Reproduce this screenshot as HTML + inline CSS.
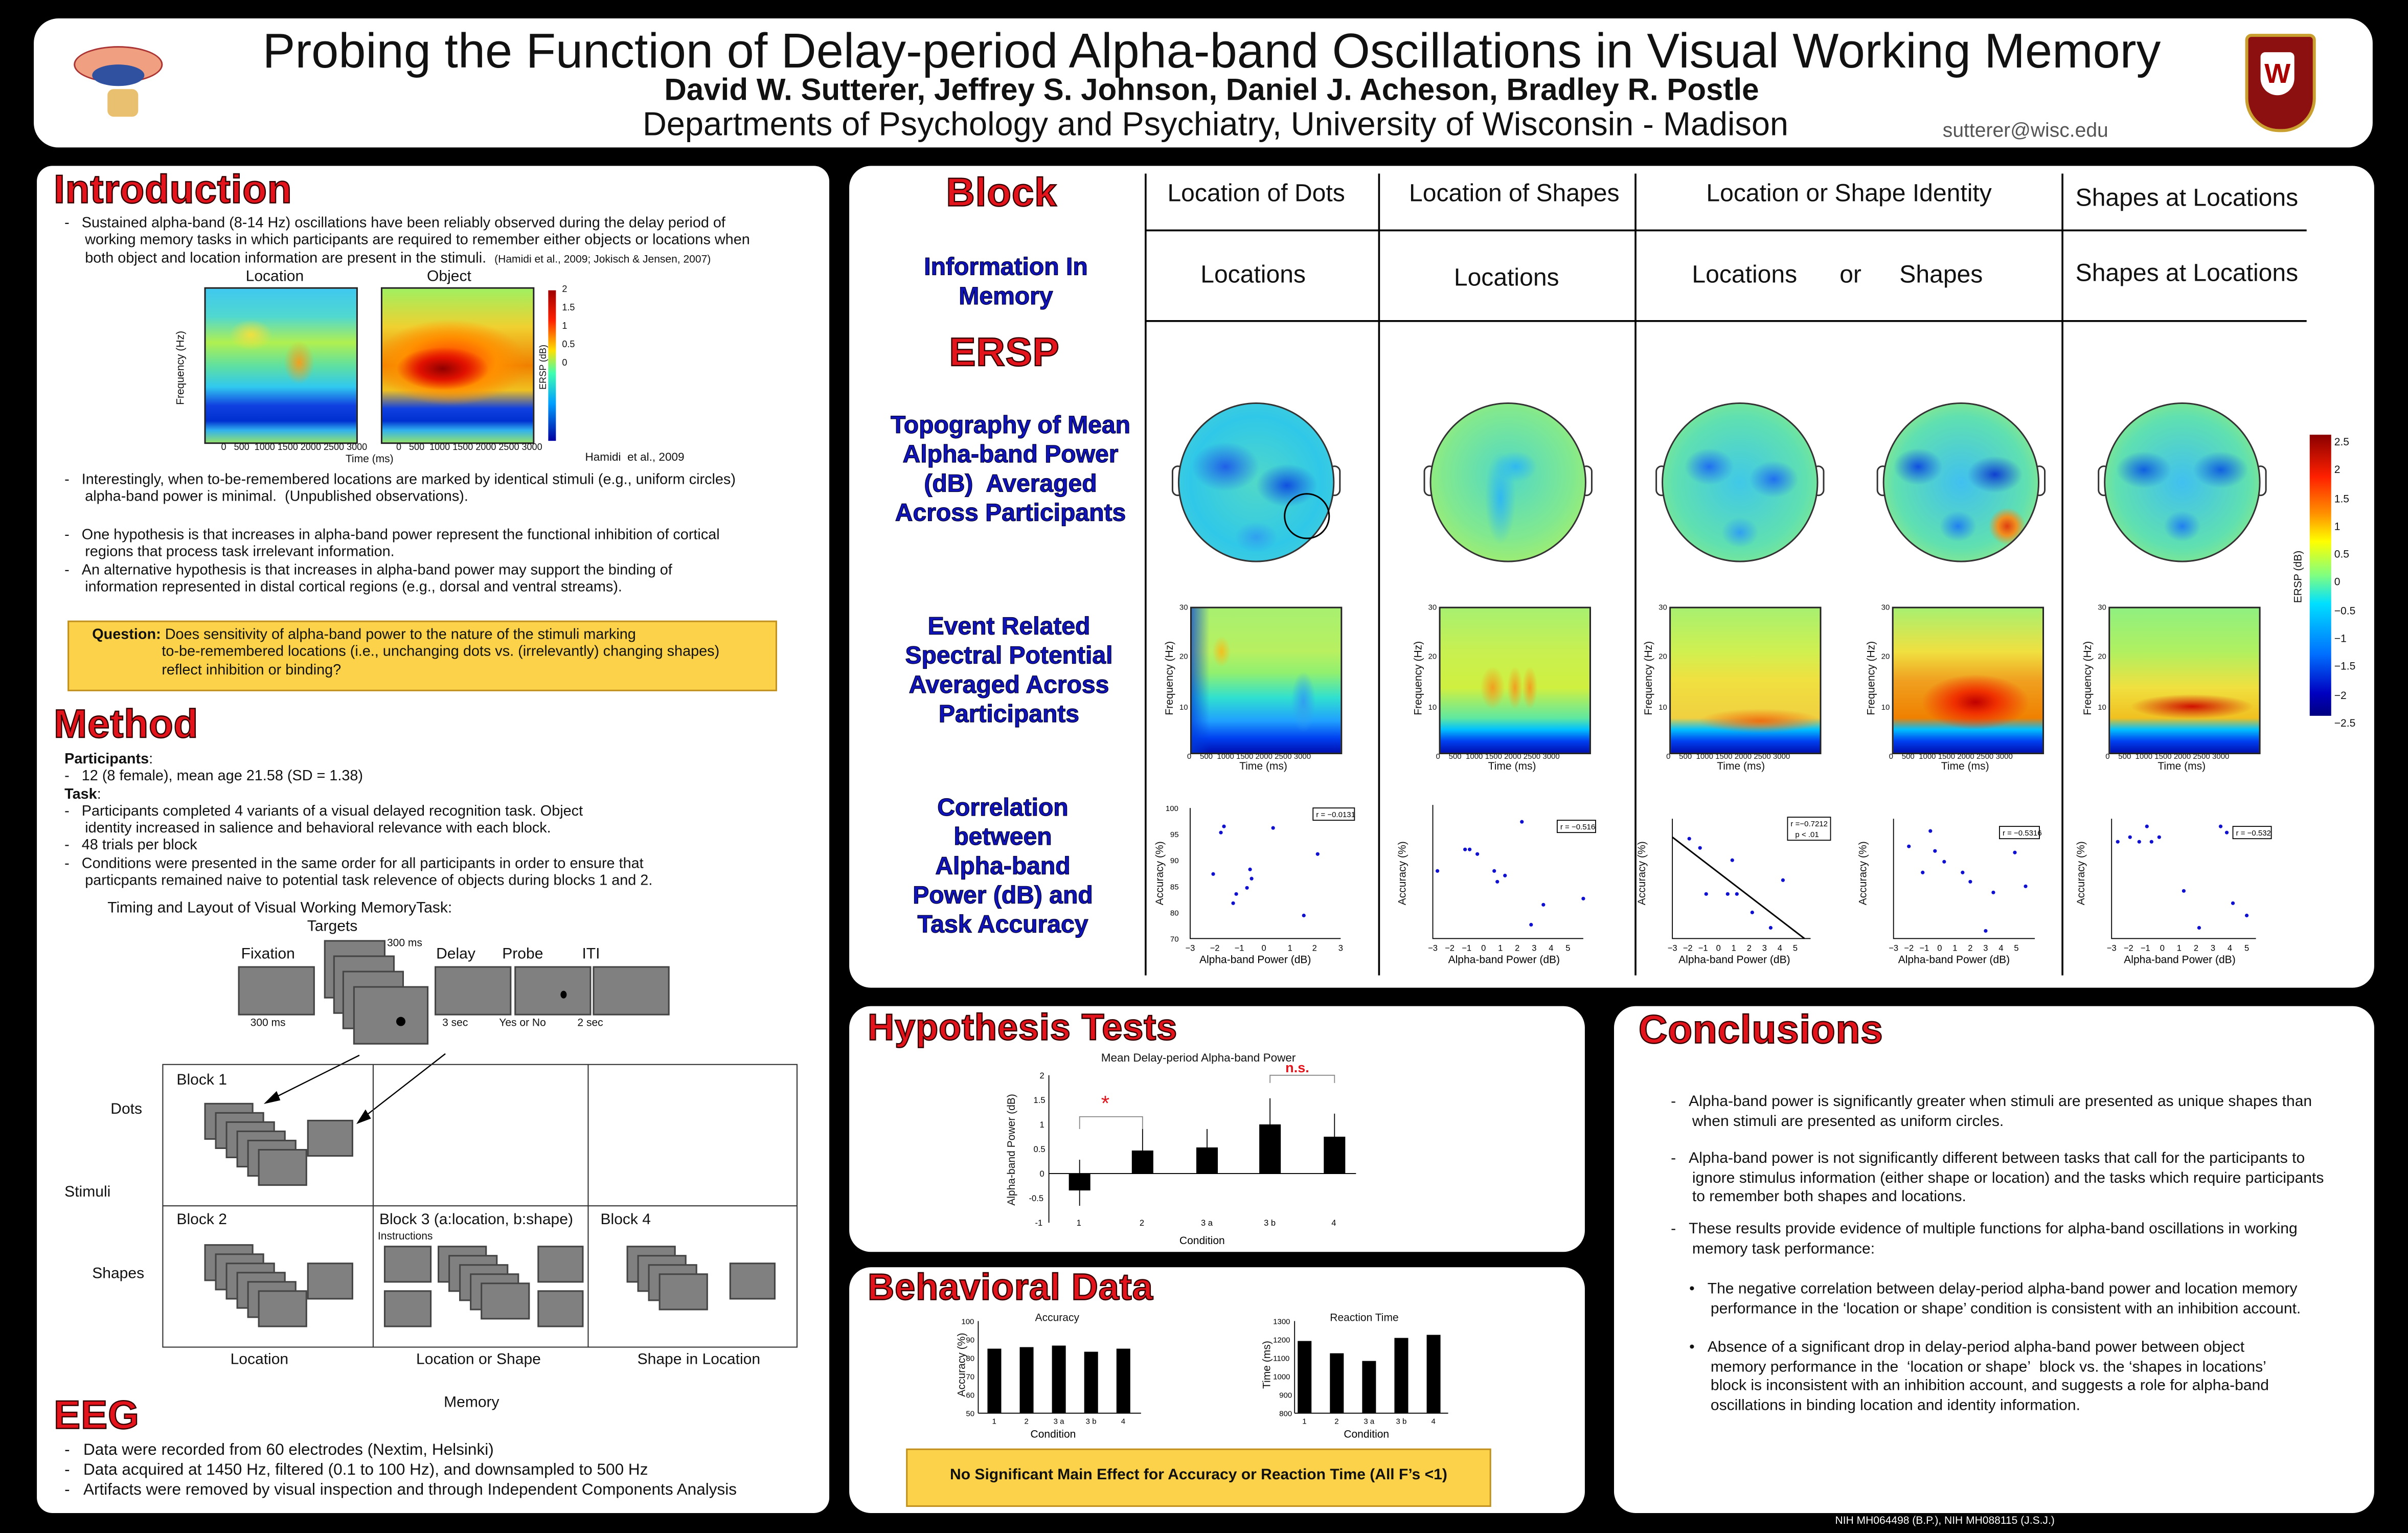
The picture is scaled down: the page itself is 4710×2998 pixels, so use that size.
<!DOCTYPE html>
<html><head><meta charset="utf-8">
<style>
html,body{margin:0;padding:0;background:#000;}
body{width:4710px;height:2998px;overflow:hidden;}
#p{position:absolute;left:0;top:0;width:1568px;height:998px;transform:scale(3.0038,3.004);transform-origin:0 0;font-family:"Liberation Sans",sans-serif;color:#111;}
.a{position:absolute;}
.pan{position:absolute;background:#fff;border-radius:14px;}
.h{position:absolute;font-weight:bold;color:#e3141c;font-size:26px;-webkit-text-stroke:0.8px #300;white-space:nowrap;letter-spacing:0.3px}
.bh{position:absolute;font-weight:bold;color:#1014b8;font-size:16px;text-align:center;-webkit-text-stroke:0.4px #000030;line-height:19px;white-space:nowrap}
.t{position:absolute;font-size:9.6px;line-height:11.3px;white-space:nowrap;font-family:"Liberation Sans Narrow","Liberation Sans",sans-serif;}
.c{position:absolute;font-size:16px;white-space:nowrap;transform:translateX(-50%);}
.topo{position:absolute;width:100px;height:102px;border-radius:50%;border:1px solid #333;}
.ear{position:absolute;width:6px;height:18px;border:1px solid #333;background:#fff;border-radius:4px}
.ersp{position:absolute;width:97px;height:94px;border:1px solid #222;}
.g{position:absolute;background:#808080;border:0.6px solid #444;}
.sm{font-size:6px;position:absolute;white-space:nowrap}
</style></head><body><div id="p">

<!-- header -->
<div class="pan" style="left:22px;top:12px;width:1523px;height:84px;border-radius:16px"></div>
<div class="a" style="left:40px;top:20px;width:80px;height:62px">
 <div class="a" style="left:8px;top:10px;width:56px;height:22px;border-radius:50%;background:#f0a080;border:1px solid #a33"></div>
 <div class="a" style="left:20px;top:22px;width:34px;height:14px;border-radius:50%;background:#3050a0"></div>
 <div class="a" style="left:30px;top:38px;width:20px;height:18px;border-radius:4px;background:#e8c070"></div>
</div>
<div class="a" style="left:0;width:1578px;top:15px;text-align:center;font-size:31.8px;">Probing the Function of Delay-period Alpha-band Oscillations in Visual Working Memory</div>
<div class="a" style="left:0;width:1578px;top:48px;text-align:center;font-size:20px;font-weight:bold">David W. Sutterer, Jeffrey S. Johnson, Daniel J. Acheson, Bradley R. Postle</div>
<div class="a" style="left:0;width:1583px;top:68px;text-align:center;font-size:21.6px;">Departments of Psychology and Psychiatry, University of Wisconsin - Madison</div>
<div class="a" style="left:1265px;top:77px;font-size:13px;color:#555">sutterer@wisc.edu</div>
<div class="a" style="left:1462px;top:22px;width:42px;height:60px;background:#8c1010;border-radius:4px 4px 22px 22px;border:2px solid #c9a030"></div>
<div class="a" style="left:1472px;top:34px;width:22px;height:28px;background:#fff;border-radius:3px 3px 11px 11px;color:#a00;font-weight:bold;font-size:18px;text-align:center;line-height:28px">W</div>

<!-- left panel -->
<div class="pan" style="left:24px;top:108px;width:516px;height:877px;border-radius:10px"></div>
<div class="h" style="left:35px;top:108px">Introduction</div>
<div class="t" style="left:42px;top:140px">-&nbsp;&nbsp;&nbsp;Sustained alpha-band (8-14 Hz) oscillations have been reliably observed during the delay period of<br>&nbsp;&nbsp;&nbsp;&nbsp;&nbsp;working memory tasks in which participants are required to remember either objects or locations when<br>&nbsp;&nbsp;&nbsp;&nbsp;&nbsp;both object and location information are present in the stimuli.&nbsp; <span style="font-size:7px">(Hamidi et al., 2009; Jokisch &amp; Jensen, 2007)</span></div>
<div class="t" style="left:160px;top:175px;font-size:10px">Location</div>
<div class="t" style="left:278px;top:175px;font-size:10px">Object</div>
<div class="a" style="left:133px;top:187px;width:98px;height:100px;border:1px solid #222;background:
radial-gradient(ellipse 10px 14px at 62% 48%,#f0a020,rgba(240,200,40,0) 100%),
radial-gradient(ellipse 14px 10px at 30% 30%,#f0e040,rgba(240,200,40,0) 100%),
linear-gradient(to top,#90e070 0%,#30b0f0 8%,#0030d0 14%,#1040e0 24%,#30c8f0 36%,#60e0a0 50%,#b0f050 65%,#50d8d0 82%,#40c8f0 100%)"></div>
<div class="a" style="left:248px;top:187px;width:98px;height:100px;border:1px solid #222;background:
radial-gradient(ellipse 30px 14px at 40% 52%,#900000,#e01000 50%,rgba(255,60,0,0) 100%),
radial-gradient(ellipse 50px 28px at 45% 48%,#ff3000,#ff9000 60%,rgba(255,200,0,0) 100%),
linear-gradient(to top,#90e070 0%,#30b0f0 8%,#0030d0 14%,#1040e0 22%,#f0c020 34%,#f08000 50%,#f0d030 75%,#a0f060 100%)"></div>
<div class="a" style="left:357px;top:189px;width:5px;height:98px;background:linear-gradient(#a00000,#ff2000 20%,#ffe000 40%,#40ffb0 55%,#00a0ff 75%,#0000a0)"></div>
<div class="sm" style="left:366px;top:186px">2<br><br>1.5<br><br>1<br><br>0.5<br><br>0</div>
<div class="sm" style="left:94px;top:236px;transform:rotate(-90deg);font-size:7px">Frequency (Hz)</div>
<div class="sm" style="left:340px;top:236px;transform:rotate(-90deg)">ERSP (dB)</div>
<div class="sm" style="left:144px;top:289px">0&nbsp;&nbsp;&nbsp;500&nbsp;&nbsp;1000&nbsp;1500&nbsp;2000&nbsp;2500&nbsp;3000</div>
<div class="sm" style="left:258px;top:289px">0&nbsp;&nbsp;&nbsp;500&nbsp;&nbsp;1000&nbsp;1500&nbsp;2000&nbsp;2500&nbsp;3000</div>
<div class="sm" style="left:225px;top:296px;font-size:7px">Time (ms)</div>
<div class="sm" style="left:381px;top:293px;font-size:7.5px">Hamidi&nbsp; et al., 2009</div>
<div class="t" style="left:42px;top:307px">-&nbsp;&nbsp;&nbsp;Interestingly, when to-be-remembered locations are marked by identical stimuli (e.g., uniform circles)<br>&nbsp;&nbsp;&nbsp;&nbsp;&nbsp;alpha-band power is minimal.&nbsp; (Unpublished observations).</div>
<div class="t" style="left:42px;top:343px">-&nbsp;&nbsp;&nbsp;One hypothesis is that increases in alpha-band power represent the functional inhibition of cortical<br>&nbsp;&nbsp;&nbsp;&nbsp;&nbsp;regions that process task irrelevant information.<br>-&nbsp;&nbsp;&nbsp;An alternative hypothesis is that increases in alpha-band power may support the binding of<br>&nbsp;&nbsp;&nbsp;&nbsp;&nbsp;information represented in distal cortical regions (e.g., dorsal and ventral streams).</div>
<div class="a" style="left:44px;top:404px;width:460px;height:44px;background:#fcd24a;border:1px solid #c09020"></div>
<div class="t" style="left:60px;top:408px"><b>Question:</b> Does sensitivity of alpha-band power to the nature of the stimuli marking<br>&nbsp;&nbsp;&nbsp;&nbsp;&nbsp;&nbsp;&nbsp;&nbsp;&nbsp;&nbsp;&nbsp;&nbsp;&nbsp;&nbsp;&nbsp;&nbsp;&nbsp;to-be-remembered locations (i.e., unchanging dots vs. (irrelevantly) changing shapes)<br>&nbsp;&nbsp;&nbsp;&nbsp;&nbsp;&nbsp;&nbsp;&nbsp;&nbsp;&nbsp;&nbsp;&nbsp;&nbsp;&nbsp;&nbsp;&nbsp;&nbsp;reflect inhibition or binding?</div>

<div class="h" style="left:35px;top:456px">Method</div>
<div class="t" style="left:42px;top:489px"><b>Participants</b>:<br>-&nbsp;&nbsp;&nbsp;12 (8 female), mean age 21.58 (SD = 1.38)<br><b>Task</b>:<br>-&nbsp;&nbsp;&nbsp;Participants completed 4 variants of a visual delayed recognition task. Object<br>&nbsp;&nbsp;&nbsp;&nbsp;&nbsp;identity increased in salience and behavioral relevance with each block.<br>-&nbsp;&nbsp;&nbsp;48 trials per block<br>-&nbsp;&nbsp;&nbsp;Conditions were presented in the same order for all participants in order to ensure that<br>&nbsp;&nbsp;&nbsp;&nbsp;&nbsp;particpants remained naive to potential task relevence of objects during blocks 1 and 2.</div>
<div class="t" style="left:70px;top:586px;font-size:10px">Timing and Layout of Visual Working MemoryTask:</div>
<div class="t" style="left:200px;top:598px;font-size:10px">Targets</div>
<div class="t" style="left:252px;top:609px;font-size:7px;background:#fff">300 ms</div>
<div class="t" style="left:157px;top:616px;font-size:10px">Fixation</div>
<div class="t" style="left:284px;top:616px;font-size:10px">Delay</div>
<div class="t" style="left:327px;top:616px;font-size:10px">Probe</div>
<div class="t" style="left:379px;top:616px;font-size:10px">ITI</div>
<div class="g" style="left:155px;top:629px;width:48px;height:30px"></div>
<div class="g" style="left:211px;top:612px;width:38px;height:36px"></div>
<div class="g" style="left:217px;top:622px;width:38px;height:36px"></div>
<div class="g" style="left:223px;top:632px;width:38px;height:36px"></div>
<div class="g" style="left:230px;top:642px;width:47px;height:36px"></div>
<div class="g" style="left:283px;top:629px;width:48px;height:30px"></div>
<div class="g" style="left:335px;top:629px;width:48px;height:30px"></div>
<div class="g" style="left:386px;top:629px;width:48px;height:30px"></div>
<div class="a" style="left:258px;top:662px;width:6px;height:6px;background:#000;border-radius:50%"></div>
<div class="a" style="left:365px;top:645px;width:4px;height:5px;background:#000;border-radius:50%"></div>
<div class="t" style="left:163px;top:661px;font-size:7px">300 ms</div>
<div class="t" style="left:288px;top:661px;font-size:7px">3 sec</div>
<div class="t" style="left:325px;top:661px;font-size:7px">Yes or No</div>
<div class="t" style="left:376px;top:661px;font-size:7px">2 sec</div>
<svg class="a" style="left:0;top:0" width="540" height="998"><g stroke="#000" stroke-width="0.8" fill="#000">
<line x1="234" y1="687" x2="176" y2="716"/><polygon points="173,718 180,711 182,716"/>
<line x1="290" y1="686" x2="236" y2="728"/><polygon points="233,731 238,723 241,728"/></g>
<g fill="none" stroke="#333" stroke-width="0.7"><rect x="106" y="693" width="413" height="184"/><line x1="243" y1="693" x2="243" y2="877"/><line x1="383" y1="693" x2="383" y2="877"/><line x1="106" y1="785" x2="519" y2="785"/></g></svg>
<div class="t" style="left:115px;top:698px;font-size:10px">Block 1</div>
<div class="t" style="left:115px;top:789px;font-size:10px">Block 2</div>
<div class="t" style="left:247px;top:789px;font-size:10px">Block 3 (a:location, b:shape)</div>
<div class="t" style="left:246px;top:800px;font-size:7px">Instructions</div>
<div class="t" style="left:391px;top:789px;font-size:10px">Block 4</div>
<div class="t" style="left:72px;top:717px;font-size:10px">Dots</div>
<div class="t" style="left:42px;top:771px;font-size:10px">Stimuli</div>
<div class="t" style="left:60px;top:824px;font-size:10px">Shapes</div>
<div class="g" style="left:133px;top:718px;width:30px;height:22px"></div><div class="g" style="left:140px;top:724px;width:30px;height:22px"></div><div class="g" style="left:147px;top:730px;width:30px;height:22px"></div><div class="g" style="left:154px;top:736px;width:30px;height:22px"></div><div class="g" style="left:161px;top:742px;width:30px;height:22px"></div><div class="g" style="left:168px;top:748px;width:30px;height:22px"></div><div class="g" style="left:200px;top:729px;width:28px;height:22px"></div>
<div class="g" style="left:133px;top:810px;width:30px;height:22px"></div><div class="g" style="left:140px;top:816px;width:30px;height:22px"></div><div class="g" style="left:147px;top:822px;width:30px;height:22px"></div><div class="g" style="left:154px;top:828px;width:30px;height:22px"></div><div class="g" style="left:161px;top:834px;width:30px;height:22px"></div><div class="g" style="left:168px;top:840px;width:30px;height:22px"></div><div class="g" style="left:200px;top:822px;width:28px;height:22px"></div>
<div class="g" style="left:250px;top:811px;width:29px;height:22px"></div><div class="g" style="left:250px;top:840px;width:29px;height:22px"></div>
<div class="g" style="left:285px;top:811px;width:30px;height:22px"></div><div class="g" style="left:292px;top:817px;width:30px;height:22px"></div><div class="g" style="left:299px;top:823px;width:30px;height:22px"></div><div class="g" style="left:306px;top:829px;width:30px;height:22px"></div><div class="g" style="left:313px;top:835px;width:30px;height:22px"></div><div class="g" style="left:350px;top:811px;width:28px;height:22px"></div><div class="g" style="left:350px;top:840px;width:28px;height:22px"></div>
<div class="g" style="left:408px;top:811px;width:30px;height:22px"></div><div class="g" style="left:415px;top:817px;width:30px;height:22px"></div><div class="g" style="left:422px;top:823px;width:30px;height:22px"></div><div class="g" style="left:429px;top:829px;width:30px;height:22px"></div><div class="g" style="left:475px;top:822px;width:28px;height:22px"></div>
<div class="t" style="left:150px;top:880px;font-size:10px">Location</div>
<div class="t" style="left:271px;top:880px;font-size:10px">Location or Shape</div>
<div class="t" style="left:415px;top:880px;font-size:10px">Shape in Location</div>
<div class="t" style="left:289px;top:908px;font-size:10px">Memory</div>
<div class="h" style="left:35px;top:906px">EEG</div>
<div class="t" style="left:42px;top:938px;font-size:10.5px;line-height:13px">-&nbsp;&nbsp;&nbsp;Data were recorded from 60 electrodes (Nextim, Helsinki)<br>-&nbsp;&nbsp;&nbsp;Data acquired at 1450 Hz, filtered (0.1 to 100 Hz), and downsampled to 500 Hz<br>-&nbsp;&nbsp;&nbsp;Artifacts were removed by visual inspection and through Independent Components Analysis</div>

<!-- top right panel -->
<div class="pan" style="left:553px;top:108px;width:993px;height:535px"></div>
<svg class="a" style="left:553px;top:108px" width="993" height="535"><g stroke="#000" stroke-width="1.2">
<line x1="193" y1="5" x2="193" y2="527"/><line x1="345" y1="5" x2="345" y2="527"/><line x1="512" y1="5" x2="512" y2="527"/><line x1="790" y1="5" x2="790" y2="527"/>
<line x1="193" y1="42" x2="949" y2="42"/><line x1="193" y1="101" x2="949" y2="101"/></g></svg>
<div class="h" style="left:616px;top:110px">Block</div>
<div class="h" style="left:618px;top:214px">ERSP</div>
<div class="c" style="left:818px;top:118px">Location of Dots</div>
<div class="c" style="left:986px;top:118px">Location of Shapes</div>
<div class="c" style="left:1204px;top:118px">Location or Shape Identity</div>
<div class="c" style="left:1424px;top:121px">Shapes at Locations</div>
<div class="c" style="left:816px;top:171px">Locations</div>
<div class="c" style="left:981px;top:173px">Locations</div>
<div class="c" style="left:1136px;top:171px">Locations</div>
<div class="c" style="left:1205px;top:171px">or</div>
<div class="c" style="left:1264px;top:171px">Shapes</div>
<div class="c" style="left:1424px;top:170px">Shapes at Locations</div>
<div class="bh" style="left:555px;width:200px;top:165px">Information In<br>Memory</div>
<div class="bh" style="left:558px;width:200px;top:268px">Topography of Mean<br>Alpha-band Power<br>(dB)&nbsp; Averaged<br>Across Participants</div>
<div class="bh" style="left:557px;width:200px;top:399px">Event Related<br>Spectral Potential<br>Averaged Across<br>Participants</div>
<div class="bh" style="left:553px;width:200px;top:517px">Correlation<br>between<br>Alpha-band<br>Power (dB) and<br>Task Accuracy</div>

<!-- topoplots -->
<div class="ear" style="left:763px;top:303px"></div><div class="ear" style="left:865px;top:303px"></div>
<div class="topo" style="left:767px;top:262px;background:radial-gradient(ellipse 22px 16px at 30% 40%,#2060e8,rgba(0,0,0,0) 100%),radial-gradient(ellipse 20px 14px at 70% 52%,#1050e0,rgba(0,0,0,0) 100%),radial-gradient(ellipse 14px 10px at 50% 85%,#30a0f0,rgba(0,0,0,0) 100%),radial-gradient(circle,#50d8c8,#30c8e8 60%,#50d0d0 100%)"></div>
<div class="a" style="left:836px;top:321px;width:28px;height:28px;border:1.5px solid #000;border-radius:50%"></div>
<div class="ear" style="left:927px;top:303px"></div><div class="ear" style="left:1029px;top:303px"></div>
<div class="topo" style="left:931px;top:262px;background:radial-gradient(ellipse 10px 30px at 45% 60%,#30b8f0,rgba(0,0,0,0) 100%),radial-gradient(ellipse 14px 10px at 55% 40%,#30b8f0,rgba(0,0,0,0) 100%),radial-gradient(circle at 50% 45%,#50d8c8,#80e890 55%,#b0f060 90%)"></div>
<div class="ear" style="left:1078px;top:303px"></div><div class="ear" style="left:1180px;top:303px"></div>
<div class="topo" style="left:1082px;top:262px;background:radial-gradient(ellipse 16px 12px at 30% 40%,#2070f0,rgba(0,0,0,0) 100%),radial-gradient(ellipse 16px 12px at 72% 48%,#2070f0,rgba(0,0,0,0) 100%),radial-gradient(ellipse 12px 10px at 50% 82%,#30a0f0,rgba(0,0,0,0) 100%),radial-gradient(circle,#40c8e8,#60e0b0 60%,#a0f070 100%)"></div>
<div class="ear" style="left:1222px;top:303px"></div><div class="ear" style="left:1324px;top:303px"></div>
<div class="topo" style="left:1226px;top:262px;background:radial-gradient(ellipse 12px 12px at 80% 78%,#e04010,#f09020 50%,rgba(240,180,0,0) 100%),radial-gradient(ellipse 18px 12px at 72% 45%,#1040d0,rgba(0,0,0,0) 100%),radial-gradient(ellipse 16px 12px at 22% 40%,#1050e0,rgba(0,0,0,0) 100%),radial-gradient(ellipse 12px 10px at 48% 78%,#2080f0,rgba(0,0,0,0) 100%),radial-gradient(circle,#40c0f0,#60e0b0 60%,#c0f060 100%)"></div>
<div class="ear" style="left:1366px;top:303px"></div><div class="ear" style="left:1468px;top:303px"></div>
<div class="topo" style="left:1370px;top:262px;background:radial-gradient(ellipse 18px 12px at 25% 42%,#1060e0,rgba(0,0,0,0) 100%),radial-gradient(ellipse 18px 12px at 75% 42%,#1060e0,rgba(0,0,0,0) 100%),radial-gradient(ellipse 12px 10px at 50% 78%,#2080f0,rgba(0,0,0,0) 100%),radial-gradient(circle,#40c0f0,#60e0b0 60%,#b0f060 100%)"></div>
<div class="a" style="left:1504px;top:283px;width:14px;height:183px;background:linear-gradient(#8a0000,#ff2000 15%,#ff9000 28%,#ffff00 38%,#80ff80 50%,#00e0ff 60%,#0070ff 78%,#0000c0 92%,#000080)"></div>
<div class="sm" style="left:1520px;top:280px;font-size:7px;line-height:18.3px">2.5<br>2<br>1.5<br>1<br>0.5<br>0<br>−0.5<br>−1<br>−1.5<br>−2<br>−2.5</div>
<div class="sm" style="left:1480px;top:372px;transform:rotate(-90deg);font-size:7px">ERSP (dB)</div>

<!-- ERSP -->
<div class="ersp" style="left:775px;top:395px;background:radial-gradient(ellipse 6px 10px at 20% 30%,#f0c020,rgba(0,0,0,0)),radial-gradient(ellipse 8px 20px at 75% 65%,#30a0f0,rgba(0,0,0,0)),linear-gradient(to right,rgba(0,60,220,0.7) 0%,rgba(0,60,220,0) 12%),linear-gradient(to top,#0010b0 0%,#0040f0 10%,#20a0ff 22%,#30e0d0 38%,#90f070 55%,#b8f060 70%,#a8f070 100%)"></div>
<div class="ersp" style="left:937px;top:395px;background:radial-gradient(ellipse 8px 14px at 35% 55%,#f0a020,rgba(0,0,0,0)),radial-gradient(ellipse 5px 14px at 50% 55%,#f0a020,rgba(0,0,0,0)),radial-gradient(ellipse 5px 14px at 60% 55%,#f0a020,rgba(0,0,0,0)),linear-gradient(to top,#0010b0 0%,#0040f0 8%,#00c0ff 16%,#60e8a0 24%,#d0f040 45%,#c8f050 70%,#a8f070 100%)"></div>
<div class="ersp" style="left:1087px;top:395px;background:radial-gradient(ellipse 40px 8px at 60% 78%,#f07010,rgba(0,0,0,0)),linear-gradient(to top,#0010b0 0%,#0040f0 8%,#00c0ff 16%,#f0d040 24%,#f0e040 50%,#d0f050 70%,#a8f070 100%)"></div>
<div class="ersp" style="left:1232px;top:395px;background:radial-gradient(ellipse 35px 18px at 55% 65%,#c00000,#f03000 40%,rgba(240,150,0,0) 100%),linear-gradient(to top,#0010b0 0%,#0040f0 8%,#00c0ff 16%,#f08000 24%,#f0a020 50%,#f0e040 70%,#a8f070 100%)"></div>
<div class="ersp" style="left:1373px;top:395px;background:radial-gradient(ellipse 40px 8px at 55% 68%,#d01000,rgba(240,150,0,0) 100%),linear-gradient(to top,#0010b0 0%,#0040f0 8%,#00c0ff 16%,#f0c020 24%,#f0e040 45%,#b0f060 70%,#90f080 100%)"></div>
<div class="sm" style="left:773px;top:490px;font-size:5px">0&nbsp;&nbsp;&nbsp;&nbsp;500&nbsp;&nbsp;1000&nbsp;1500&nbsp;2000&nbsp;2500&nbsp;3000</div>
<div class="sm" style="left:935px;top:490px;font-size:5px">0&nbsp;&nbsp;&nbsp;&nbsp;500&nbsp;&nbsp;1000&nbsp;1500&nbsp;2000&nbsp;2500&nbsp;3000</div>
<div class="sm" style="left:1085px;top:490px;font-size:5px">0&nbsp;&nbsp;&nbsp;&nbsp;500&nbsp;&nbsp;1000&nbsp;1500&nbsp;2000&nbsp;2500&nbsp;3000</div>
<div class="sm" style="left:1230px;top:490px;font-size:5px">0&nbsp;&nbsp;&nbsp;&nbsp;500&nbsp;&nbsp;1000&nbsp;1500&nbsp;2000&nbsp;2500&nbsp;3000</div>
<div class="sm" style="left:1371px;top:490px;font-size:5px">0&nbsp;&nbsp;&nbsp;&nbsp;500&nbsp;&nbsp;1000&nbsp;1500&nbsp;2000&nbsp;2500&nbsp;3000</div>
<div class="sm" style="left:807px;top:496px;font-size:7px">Time (ms)</div>
<div class="sm" style="left:969px;top:496px;font-size:7px">Time (ms)</div>
<div class="sm" style="left:1118px;top:496px;font-size:7px">Time (ms)</div>
<div class="sm" style="left:1264px;top:496px;font-size:7px">Time (ms)</div>
<div class="sm" style="left:1405px;top:496px;font-size:7px">Time (ms)</div>
<div class="sm" style="left:738px;top:438px;transform:rotate(-90deg);font-size:7px">Frequency (Hz)</div>
<div class="sm" style="left:900px;top:438px;transform:rotate(-90deg);font-size:7px">Frequency (Hz)</div>
<div class="sm" style="left:1050px;top:438px;transform:rotate(-90deg);font-size:7px">Frequency (Hz)</div>
<div class="sm" style="left:1195px;top:438px;transform:rotate(-90deg);font-size:7px">Frequency (Hz)</div>
<div class="sm" style="left:1336px;top:438px;transform:rotate(-90deg);font-size:7px">Frequency (Hz)</div>
<div class="sm" style="left:768px;top:393px;font-size:5px">30</div><div class="sm" style="left:768px;top:425px;font-size:5px">20</div><div class="sm" style="left:768px;top:458px;font-size:5px">10</div>
<div class="sm" style="left:930px;top:393px;font-size:5px">30</div><div class="sm" style="left:930px;top:425px;font-size:5px">20</div><div class="sm" style="left:930px;top:458px;font-size:5px">10</div>
<div class="sm" style="left:1080px;top:393px;font-size:5px">30</div><div class="sm" style="left:1080px;top:425px;font-size:5px">20</div><div class="sm" style="left:1080px;top:458px;font-size:5px">10</div>
<div class="sm" style="left:1225px;top:393px;font-size:5px">30</div><div class="sm" style="left:1225px;top:425px;font-size:5px">20</div><div class="sm" style="left:1225px;top:458px;font-size:5px">10</div>
<div class="sm" style="left:1366px;top:393px;font-size:5px">30</div><div class="sm" style="left:1366px;top:425px;font-size:5px">20</div><div class="sm" style="left:1366px;top:458px;font-size:5px">10</div>

<!-- scatter -->
<svg class="a" style="left:553px;top:108px" width="993" height="535"><g stroke="#000" stroke-width="0.6" fill="none">
<polyline points="222,418 222,503 320,503"/><polyline points="380,416 380,503 478,503"/><polyline points="536,425 536,503 626,503"/><polyline points="680,425 680,503 772,503"/><polyline points="822,425 822,503 916,503"/>
<rect x="302" y="418" width="27" height="8"/><rect x="461" y="426" width="25" height="8"/><rect x="611" y="424" width="28" height="15"/><rect x="749" y="430" width="26" height="8"/><rect x="901" y="430" width="25" height="8"/>
<line x1="536" y1="437" x2="622" y2="503" stroke-width="1"/></g>
<g fill="#1010d0"><circle cx="237" cy="461" r="1.2"/><circle cx="242" cy="434" r="1.2"/><circle cx="244" cy="430" r="1.2"/><circle cx="250" cy="480" r="1.2"/><circle cx="252" cy="474" r="1.2"/><circle cx="259" cy="470" r="1.2"/><circle cx="261" cy="458" r="1.2"/><circle cx="262" cy="464" r="1.2"/><circle cx="276" cy="431" r="1.2"/><circle cx="305" cy="448" r="1.2"/><circle cx="296" cy="488" r="1.2"/>
<circle cx="383" cy="459" r="1.2"/><circle cx="401" cy="445" r="1.2"/><circle cx="404" cy="445" r="1.2"/><circle cx="409" cy="448" r="1.2"/><circle cx="420" cy="459" r="1.2"/><circle cx="422" cy="466" r="1.2"/><circle cx="427" cy="462" r="1.2"/><circle cx="438" cy="427" r="1.2"/><circle cx="444" cy="494" r="1.2"/><circle cx="452" cy="481" r="1.2"/><circle cx="478" cy="477" r="1.2"/>
<circle cx="547" cy="438" r="1.2"/><circle cx="554" cy="444" r="1.2"/><circle cx="558" cy="474" r="1.2"/><circle cx="572" cy="474" r="1.2"/><circle cx="575" cy="452" r="1.2"/><circle cx="578" cy="474" r="1.2"/><circle cx="588" cy="486" r="1.2"/><circle cx="600" cy="496" r="1.2"/><circle cx="608" cy="465" r="1.2"/>
<circle cx="690" cy="443" r="1.2"/><circle cx="699" cy="460" r="1.2"/><circle cx="704" cy="433" r="1.2"/><circle cx="707" cy="446" r="1.2"/><circle cx="713" cy="453" r="1.2"/><circle cx="725" cy="460" r="1.2"/><circle cx="730" cy="466" r="1.2"/><circle cx="740" cy="498" r="1.2"/><circle cx="745" cy="473" r="1.2"/><circle cx="759" cy="447" r="1.2"/><circle cx="766" cy="469" r="1.2"/>
<circle cx="826" cy="440" r="1.2"/><circle cx="834" cy="437" r="1.2"/><circle cx="840" cy="440" r="1.2"/><circle cx="845" cy="430" r="1.2"/><circle cx="848" cy="440" r="1.2"/><circle cx="853" cy="437" r="1.2"/><circle cx="869" cy="472" r="1.2"/><circle cx="879" cy="496" r="1.2"/><circle cx="893" cy="430" r="1.2"/><circle cx="897" cy="434" r="1.2"/><circle cx="901" cy="480" r="1.2"/><circle cx="910" cy="488" r="1.2"/></g>
<g font-size="5" font-family="Liberation Sans"><text x="304" y="424">r = −0.0131</text><text x="463" y="432">r = −0.516</text><text x="613" y="430">r =−0.7212</text><text x="616" y="437">p &lt; .01</text><text x="751" y="436">r = −0.5316</text><text x="903" y="436">r = −0.532</text>
<text x="206" y="420">100</text><text x="209" y="437">95</text><text x="209" y="454">90</text><text x="209" y="471">85</text><text x="209" y="488">80</text><text x="209" y="505">70</text></g>
<g font-size="7" font-family="Liberation Sans"><text x="228" y="519">Alpha-band Power (dB)</text><text x="390" y="519">Alpha-band Power (dB)</text><text x="540" y="519">Alpha-band Power (dB)</text><text x="683" y="519">Alpha-band Power (dB)</text><text x="830" y="519">Alpha-band Power (dB)</text></g>
<g font-size="5.5" font-family="Liberation Sans" text-anchor="middle">
<text x="222" y="511">−3</text><text x="238" y="511">−2</text><text x="254" y="511">−1</text><text x="270" y="511">0</text><text x="287" y="511">1</text><text x="303" y="511">2</text><text x="320" y="511">3</text>
<text x="380" y="511">−3</text><text x="391" y="511">−2</text><text x="402" y="511">−1</text><text x="413" y="511">0</text><text x="424" y="511">1</text><text x="435" y="511">2</text><text x="446" y="511">3</text><text x="457" y="511">4</text><text x="468" y="511">5</text>
<text x="536" y="511">−3</text><text x="546" y="511">−2</text><text x="556" y="511">−1</text><text x="566" y="511">0</text><text x="576" y="511">1</text><text x="586" y="511">2</text><text x="596" y="511">3</text><text x="606" y="511">4</text><text x="616" y="511">5</text>
<text x="680" y="511">−3</text><text x="690" y="511">−2</text><text x="700" y="511">−1</text><text x="710" y="511">0</text><text x="720" y="511">1</text><text x="730" y="511">2</text><text x="740" y="511">3</text><text x="750" y="511">4</text><text x="760" y="511">5</text>
<text x="822" y="511">−3</text><text x="833" y="511">−2</text><text x="844" y="511">−1</text><text x="855" y="511">0</text><text x="866" y="511">1</text><text x="877" y="511">2</text><text x="888" y="511">3</text><text x="899" y="511">4</text><text x="910" y="511">5</text></g>
</svg>
<div class="sm" style="left:735px;top:565px;transform:rotate(-90deg);font-size:7px">Accuracy (%)</div>
<div class="sm" style="left:893px;top:565px;transform:rotate(-90deg);font-size:7px">Accuracy (%)</div>
<div class="sm" style="left:1049px;top:565px;transform:rotate(-90deg);font-size:7px">Accuracy (%)</div>
<div class="sm" style="left:1193px;top:565px;transform:rotate(-90deg);font-size:7px">Accuracy (%)</div>
<div class="sm" style="left:1335px;top:565px;transform:rotate(-90deg);font-size:7px">Accuracy (%)</div>

<!-- hypothesis -->
<div class="pan" style="left:553px;top:655px;width:479px;height:160px"></div>
<div class="h" style="left:565px;top:656px;font-size:24px">Hypothesis Tests</div>
<div class="sm" style="left:717px;top:684px;font-size:7.5px">Mean Delay-period Alpha-band Power</div>
<div class="sm" style="left:837px;top:690px;font-size:9px;color:#e3141c;font-weight:bold">n.s.</div>
<div class="sm" style="left:717px;top:710px;font-size:14px;color:#e3141c">*</div>
<svg class="a" style="left:553px;top:655px" width="479" height="160"><g stroke="#000" stroke-width="0.6" fill="none"><line x1="130" y1="45" x2="130" y2="141"/><line x1="130" y1="109" x2="330" y2="109"/><polyline points="150,80 150,72 191,72 191,80" stroke="#888"/><polyline points="274,50 274,45 316,45 316,50" stroke="#888"/>
<line x1="150" y1="100" x2="150" y2="130"/><line x1="191" y1="80" x2="191" y2="100"/><line x1="233" y1="80" x2="233" y2="100"/><line x1="274" y1="60" x2="274" y2="92"/><line x1="316" y1="70" x2="316" y2="96"/></g>
<g fill="#000"><rect x="143" y="109" width="14" height="11"/><rect x="184" y="94" width="14" height="15"/><rect x="226" y="92" width="14" height="17"/><rect x="267" y="77" width="14" height="32"/><rect x="309" y="85" width="14" height="24"/></g>
<g font-size="5.5" font-family="Liberation Sans"><text x="124" y="47">2</text><text x="120" y="63">1.5</text><text x="124" y="79">1</text><text x="120" y="95">0.5</text><text x="124" y="111">0</text><text x="117" y="127">-0.5</text><text x="121" y="143">-1</text>
<text x="148" y="143">1</text><text x="189" y="143">2</text><text x="229" y="143">3 a</text><text x="270" y="143">3 b</text><text x="314" y="143">4</text></g>
<text x="215" y="155" font-size="7" font-family="Liberation Sans">Condition</text></svg>
<div class="sm" style="left:623px;top:745px;transform:rotate(-90deg);font-size:7px">Alpha-band Power (dB)</div>

<!-- behavioral -->
<div class="pan" style="left:553px;top:825px;width:479px;height:160px"></div>
<div class="h" style="left:565px;top:825px;font-size:24px">Behavioral Data</div>
<div class="sm" style="left:674px;top:855px;font-size:7px">Accuracy</div>
<div class="sm" style="left:866px;top:855px;font-size:7px">Reaction Time</div>
<svg class="a" style="left:553px;top:825px" width="479" height="163"><g stroke="#000" stroke-width="0.6"><line x1="84" y1="35" x2="84" y2="95"/><line x1="84" y1="95" x2="190" y2="95"/><line x1="290" y1="35" x2="290" y2="95"/><line x1="290" y1="95" x2="390" y2="95"/></g>
<g fill="#000"><rect x="90" y="53" width="9" height="42"/><rect x="111" y="52" width="9" height="43"/><rect x="132" y="51" width="9" height="44"/><rect x="153" y="55" width="9" height="40"/><rect x="174" y="53" width="9" height="42"/>
<rect x="292" y="48" width="9" height="47"/><rect x="313" y="56" width="9" height="39"/><rect x="334" y="61" width="9" height="34"/><rect x="355" y="46" width="9" height="49"/><rect x="376" y="44" width="9" height="51"/></g>
<g font-size="5" font-family="Liberation Sans"><text x="93" y="102">1</text><text x="114" y="102">2</text><text x="133" y="102">3 a</text><text x="154" y="102">3 b</text><text x="177" y="102">4</text><text x="295" y="102">1</text><text x="316" y="102">2</text><text x="335" y="102">3 a</text><text x="356" y="102">3 b</text><text x="379" y="102">4</text>
<text x="73" y="37">100</text><text x="76" y="49">90</text><text x="76" y="61">80</text><text x="76" y="73">70</text><text x="76" y="85">60</text><text x="76" y="97">50</text>
<text x="276" y="37">1300</text><text x="276" y="49">1200</text><text x="276" y="61">1100</text><text x="276" y="73">1000</text><text x="280" y="85">900</text><text x="280" y="97">800</text></g>
<g font-size="7" font-family="Liberation Sans"><text x="118" y="111">Condition</text><text x="322" y="111">Condition</text></g></svg>
<div class="sm" style="left:606px;top:885px;transform:rotate(-90deg);font-size:7px">Accuracy (%)</div>
<div class="sm" style="left:810px;top:885px;transform:rotate(-90deg);font-size:7px">Time (ms)</div>
<div class="a" style="left:590px;top:943px;width:379px;height:36px;background:#fcd24a;border:1px solid #c09020"></div>
<div class="a" style="left:590px;top:943px;width:381px;line-height:36px;text-align:center;font-size:10px;font-weight:bold">No Significant Main Effect for Accuracy or Reaction Time (All F’s &lt;1)</div>

<!-- conclusions -->
<div class="pan" style="left:1051px;top:655px;width:495px;height:330px"></div>
<div class="h" style="left:1067px;top:655px">Conclusions</div>
<div class="t" style="left:1088px;top:712px;font-size:10px;line-height:12.6px">-&nbsp;&nbsp;&nbsp;Alpha-band power is significantly greater when stimuli are presented as unique shapes than<br>&nbsp;&nbsp;&nbsp;&nbsp;&nbsp;when stimuli are presented as uniform circles.</div>
<div class="t" style="left:1088px;top:749px;font-size:10px;line-height:12.6px">-&nbsp;&nbsp;&nbsp;Alpha-band power is not significantly different between tasks that call for the participants to<br>&nbsp;&nbsp;&nbsp;&nbsp;&nbsp;ignore stimulus information (either shape or location) and the tasks which require participants<br>&nbsp;&nbsp;&nbsp;&nbsp;&nbsp;to remember both shapes and locations.</div>
<div class="t" style="left:1088px;top:795px;font-size:10px;line-height:12.6px">-&nbsp;&nbsp;&nbsp;These results provide evidence of multiple functions for alpha-band oscillations in working<br>&nbsp;&nbsp;&nbsp;&nbsp;&nbsp;memory task performance:</div>
<div class="t" style="left:1100px;top:834px;font-size:10px;line-height:12.6px">•&nbsp;&nbsp;&nbsp;The negative correlation between delay-period alpha-band power and location memory<br>&nbsp;&nbsp;&nbsp;&nbsp;&nbsp;performance in the ‘location or shape’ condition is consistent with an inhibition account.</div>
<div class="t" style="left:1100px;top:872px;font-size:10px;line-height:12.6px">•&nbsp;&nbsp;&nbsp;Absence of a significant drop in delay-period alpha-band power between object<br>&nbsp;&nbsp;&nbsp;&nbsp;&nbsp;memory performance in the&nbsp; ‘location or shape’&nbsp; block vs. the ‘shapes in locations’<br>&nbsp;&nbsp;&nbsp;&nbsp;&nbsp;block is inconsistent with an inhibition account, and suggests a role for alpha-band<br>&nbsp;&nbsp;&nbsp;&nbsp;&nbsp;oscillations in binding location and identity information.</div>
<div class="a" style="left:1195px;top:987px;font-size:7px;color:#fff">NIH MH064498 (B.P.), NIH MH088115 (J.S.J.)</div>
</div></body></html>
